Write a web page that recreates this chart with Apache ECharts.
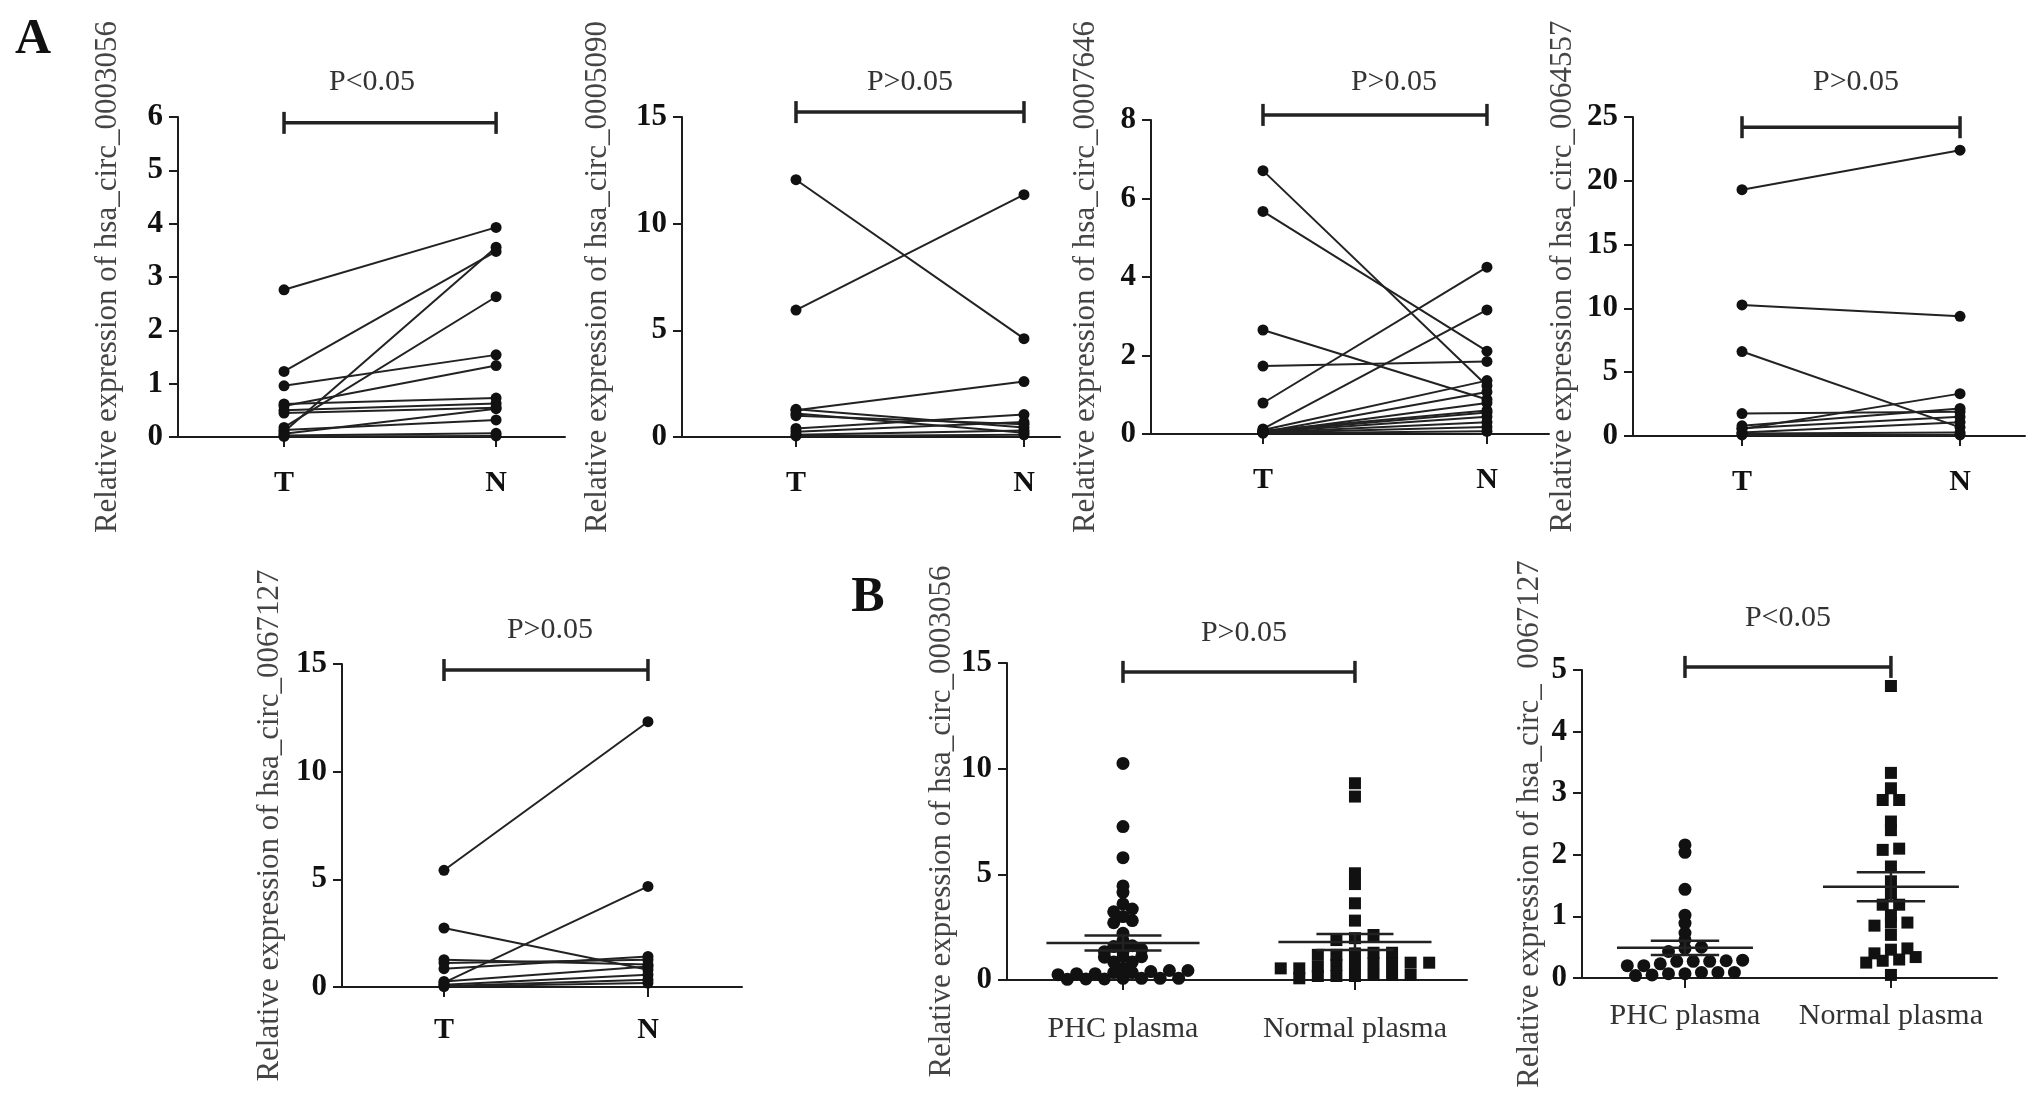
<!DOCTYPE html>
<html>
<head>
<meta charset="utf-8">
<script src="https://cdn.jsdelivr.net/npm/echarts@6/dist/echarts.min.js"></script>
<style>
html,body{margin:0;padding:0;background:#fff;}
#c{width:2031px;height:1109px;}
</style>
</head>
<body>
<div id="c"></div>
<script>
// ---------------- data ----------------
const pairCats = ['T', 'N'];
const plasmaCats = ['PHC plasma', 'Normal plasma'];

const c0003056T = [2.76, 1.23, 0.96, 0.10, 0.18, 0.58, 0.62, 0.50, 0.45, 0.06, 0.13, 0.03, 0.01];
const c0003056N = [3.93, 3.48, 1.54, 3.56, 2.63, 1.34, 0.73, 0.63, 0.55, 0.53, 0.32, 0.07, 0.02];

const c0005090T = [12.06, 5.95, 1.25, 1.10, 1.30, 0.40, 0.25, 0.10, 0.05, 1.00];
const c0005090N = [4.61, 11.36, 2.60, 0.20, 0.45, 1.05, 0.70, 0.30, 0.10, 0.60];

const c0007646T = [6.71, 5.67, 2.65, 1.73, 0.79, 0.13, 0.10, 0.08, 0.06, 0.05, 0.04, 0.03, 0.02, 0.05, 0.04];
const c0007646N = [1.23, 2.11, 0.88, 1.85, 4.25, 3.16, 1.36, 0.60, 0.55, 0.44, 0.30, 0.18, 0.07, 1.07, 0.79];

const c0064557T = [19.3, 10.27, 6.62, 1.76, 0.54, 0.80, 0.27, 0.20, 0.08, 0.60];
const c0064557N = [22.4, 9.38, 0.68, 1.90, 3.32, 2.16, 1.08, 0.27, 0.08, 1.50];

const c0067127T = [5.42, 2.74, 0.20, 1.27, 1.11, 0.85, 0.10, 0.05, 0.02, 0.26];
const c0067127N = [12.32, 0.80, 4.67, 1.04, 1.27, 1.42, 0.57, 0.34, 0.18, 0.95];

const plasma0003056PHC = [10.25, 7.26, 5.79, 4.45, 4.15, 3.60, 3.36, 3.23, 3.00, 2.81, 2.71, 2.21, 1.86, 1.62, 1.58, 1.45, 1.34, 1.34, 1.10, 1.10, 1.08, 0.85, 0.85, 0.55, 0.45, 0.45, 0.40, 0.35, 0.35, 0.30, 0.30, 0.25, 0.08, 0.08, 0.08, 0.08, 0.05, 0.05, 0.03];
const plasma0003056Normal = [9.31, 8.68, 5.05, 4.54, 3.63, 2.81, 2.13, 1.98, 1.89, 1.29, 1.29, 1.26, 1.19, 1.19, 0.82, 0.82, 0.79, 0.79, 0.71, 0.71, 0.63, 0.55, 0.55, 0.24, 0.24, 0.24, 0.19, 0.19, 0.19, 0.08];
const plasma0003056Mean = [1.75, 1.80];
const plasma0003056Sem = [0.36, 0.38];

const plasma0067127PHC = [2.16, 2.04, 1.44, 1.02, 0.89, 0.73, 0.62, 0.50, 0.48, 0.43, 0.29, 0.28, 0.27, 0.27, 0.27, 0.23, 0.20, 0.20, 0.09, 0.09, 0.09, 0.07, 0.07, 0.05, 0.04];
const plasma0067127Normal = [4.74, 3.33, 3.08, 2.89, 2.89, 2.54, 2.40, 2.10, 2.08, 1.81, 1.57, 1.37, 1.19, 1.19, 1.02, 0.90, 0.90, 0.85, 0.70, 0.48, 0.46, 0.40, 0.34, 0.30, 0.28, 0.25, 0.05];
const plasma0067127Mean = [0.49, 1.48];
const plasma0067127Sem = [0.115, 0.235];

const pLabels = ['P<0.05', 'P>0.05', 'P>0.05', 'P>0.05', 'P>0.05', 'P>0.05', 'P<0.05'];
const bracketLevels = [5.89, 15.23, 8.13, 24.2, 14.72, 14.58, 5.05];
const yMax = [6, 15, 8, 25, 15, 15, 5];
const yInterval = [1, 5, 2, 5, 5, 5, 1];
const yTitles = [
  'Relative expression of hsa_circ_0003056',
  'Relative expression of hsa_circ_0005090',
  'Relative expression of hsa_circ_0007646',
  'Relative expression of hsa_circ_0064557',
  'Relative expression of hsa_circ_0067127',
  'Relative expression of hsa_circ_0003056',
  'Relative expression of hsa_circ_  0067127'
];

// ---------------- layout (pixels) ----------------
const FONT = '"Liberation Serif", "DejaVu Serif", serif';
const layout = [
  {left: 178, top: 117, width: 387, height: 320, xMax: 2.325, gap: 55, lm: 31, pdx: -18, pgap: 41},
  {left: 682, top: 117, width: 378, height: 320, xMax: 2.158, gap: 69, lm: 31, pdx: 0,   pgap: 30},
  {left: 1151, top: 120, width: 398, height: 314, xMax: 2.277, gap: 50, lm: 31, pdx: 19, pgap: 33},
  {left: 1633, top: 117, width: 392, height: 319, xMax: 2.298, gap: 55, lm: 31, pdx: 5,  pgap: 45},
  {left: 342, top: 664, width: 400, height: 323, xMax: 2.461, gap: 57, lm: 28, pdx: 4,   pgap: 40},
  {left: 1007, top: 663, width: 460, height: 317, xMax: 2.483, gap: 47, lm: 34, pdx: 5,  pgap: 39},
  {left: 1582, top: 670, width: 415, height: 308, xMax: 2.515, gap: 37, lm: 23, pdx: 0,  pgap: 49}
];

const pairPanels = [
  [c0003056T, c0003056N],
  [c0005090T, c0005090N],
  [c0007646T, c0007646N],
  [c0064557T, c0064557N],
  [c0067127T, c0067127N]
];

const plasmaPanels = [
  {phc: plasma0003056PHC, normal: plasma0003056Normal, mean: plasma0003056Mean, sem: plasma0003056Sem, rowA: 0.21, rowB: 0.3, step: 0.08},
  {phc: plasma0067127PHC, normal: plasma0067127Normal, mean: plasma0067127Mean, sem: plasma0067127Sem, rowA: 0.1, rowB: 0.1, step: 0.08}
];

// beeswarm arrangement like a scatter dot plot
function swarm(vals, rowSize, step, cx) {
  const s = vals.slice().sort((a, b) => a - b);
  const rows = [];
  let cur = null;
  for (const v of s) {
    if (!cur || v - cur.start >= rowSize - 1e-9) { cur = {start: v, items: []}; rows.push(cur); }
    cur.items.push(v);
  }
  const out = [];
  rows.forEach(r => {
    const n = r.items.length;
    r.items.forEach((v, i) => out.push([cx + (i - (n - 1) / 2) * step, v]));
  });
  return out;
}

const INK = '#1c1c1c';

function bracketRender(label, dx, gap) {
  return function (params, api) {
    const a = api.coord([api.value(0), api.value(2)]);
    const b = api.coord([api.value(1), api.value(2)]);
    const st = {stroke: '#222', lineWidth: 3.5};
    return {
      type: 'group',
      children: [
        {type: 'line', shape: {x1: a[0], y1: a[1], x2: b[0], y2: b[1]}, style: st},
        {type: 'line', shape: {x1: a[0], y1: a[1] - 11, x2: a[0], y2: a[1] + 11}, style: st},
        {type: 'line', shape: {x1: b[0], y1: b[1] - 11, x2: b[0], y2: b[1] + 11}, style: st},
        {type: 'text', x: (a[0] + b[0]) / 2 + dx, y: a[1] - gap,
          style: {text: label, fill: '#333', fontSize: 30, fontFamily: FONT, align: 'center', verticalAlign: 'middle'}}
      ]
    };
  };
}

function meanSemRender(params, api) {
  const x = api.value(0), m = api.value(1), e = api.value(2);
  const wm = 0.33, ws = 0.166;
  const ml = api.coord([x - wm, m]), mr = api.coord([x + wm, m]);
  const ul = api.coord([x - ws, m + e]), ur = api.coord([x + ws, m + e]);
  const ll = api.coord([x - ws, m - e]), lr = api.coord([x + ws, m - e]);
  const c = api.coord([x, m]);
  const st = {stroke: '#222', lineWidth: 2.5};
  return {
    type: 'group',
    children: [
      {type: 'line', shape: {x1: ml[0], y1: ml[1], x2: mr[0], y2: mr[1]}, style: st},
      {type: 'line', shape: {x1: ul[0], y1: ul[1], x2: ur[0], y2: ur[1]}, style: st},
      {type: 'line', shape: {x1: ll[0], y1: ll[1], x2: lr[0], y2: lr[1]}, style: st},
      {type: 'line', shape: {x1: c[0], y1: ul[1], x2: c[0], y2: ll[1]}, style: st}
    ]
  };
}

const grid = [], xAxis = [], yAxis = [], series = [];

layout.forEach((L, k) => {
  const isPlasma = k >= 5;
  const cats = isPlasma ? plasmaCats : pairCats;
  grid.push({left: L.left, top: L.top, width: L.width, height: L.height, containLabel: false});
  xAxis.push({
    gridIndex: k, type: 'value', min: 0.5, max: L.xMax,
    axisLine: {show: true, onZero: false, lineStyle: {color: INK, width: 2}},
    splitLine: {show: false},
    axisTick: {show: true, customValues: [1, 2], length: 10, lineStyle: {color: INK, width: 2}},
    axisLabel: {
      show: true, customValues: [1, 2], margin: L.lm,
      formatter: v => cats[Math.round(v) - 1] || '',
      fontFamily: FONT,
      fontSize: isPlasma ? 30 : 30,
      fontWeight: isPlasma ? 'normal' : 'bold',
      color: isPlasma ? '#333' : '#111'
    }
  });
  yAxis.push({
    gridIndex: k, type: 'value', min: 0, max: yMax[k], interval: yInterval[k],
    axisLine: {show: true, lineStyle: {color: INK, width: 2}},
    axisTick: {show: true, length: 9, lineStyle: {color: INK, width: 2}},
    splitLine: {show: false},
    axisLabel: {margin: 15, padding: [14, 0, 0, 0], fontFamily: FONT, fontSize: 31, fontWeight: 'bold', color: '#111'},
    name: yTitles[k], nameLocation: 'middle', nameGap: L.gap, nameRotate: 90,
    nameTextStyle: {fontFamily: FONT, fontSize: 31, color: '#444'}
  });
  series.push({
    type: 'custom', xAxisIndex: k, yAxisIndex: k, clip: false, silent: true, z: 5,
    renderItem: bracketRender(pLabels[k], L.pdx, L.pgap),
    data: [[1, 2, bracketLevels[k]]]
  });
});

pairPanels.forEach((p, k) => {
  const T = p[0], N = p[1];
  T.forEach((t, i) => {
    series.push({
      type: 'line', xAxisIndex: k, yAxisIndex: k, clip: false, silent: true,
      data: [[1, t], [2, N[i]]],
      symbol: 'circle', symbolSize: 11, showSymbol: true,
      lineStyle: {color: '#222', width: 2},
      itemStyle: {color: '#111', opacity: 1},
      z: 3
    });
  });
});

plasmaPanels.forEach((p, j) => {
  const k = 5 + j;
  series.push({
    type: 'scatter', xAxisIndex: k, yAxisIndex: k, clip: false, silent: true,
    symbol: 'circle', symbolSize: 13, itemStyle: {color: '#111', opacity: 1},
    data: swarm(p.phc, p.rowA, p.step, 1), z: 3
  });
  series.push({
    type: 'scatter', xAxisIndex: k, yAxisIndex: k, clip: false, silent: true,
    symbol: 'rect', symbolSize: 12, itemStyle: {color: '#111', opacity: 1},
    data: swarm(p.normal, p.rowB, p.step, 2), z: 3
  });
  series.push({
    type: 'custom', xAxisIndex: k, yAxisIndex: k, clip: false, silent: true, z: 4,
    renderItem: meanSemRender,
    data: [[1, p.mean[0], p.sem[0]], [2, p.mean[1], p.sem[1]]]
  });
});

const chart = echarts.init(document.getElementById('c'), null, {renderer: 'canvas'});
chart.setOption({
  backgroundColor: '#fff',
  animation: false,
  textStyle: {fontFamily: FONT},
  grid: grid,
  xAxis: xAxis,
  yAxis: yAxis,
  series: series,
  graphic: [
    {type: 'text', x: 33, y: 40, style: {text: 'A', fontSize: 50, fontWeight: 'bold', fontFamily: FONT, fill: '#111', align: 'center', verticalAlign: 'middle'}},
    {type: 'text', x: 868, y: 598, style: {text: 'B', fontSize: 50, fontWeight: 'bold', fontFamily: FONT, fill: '#111', align: 'center', verticalAlign: 'middle'}}
  ]
});
</script>
</body>
</html>
